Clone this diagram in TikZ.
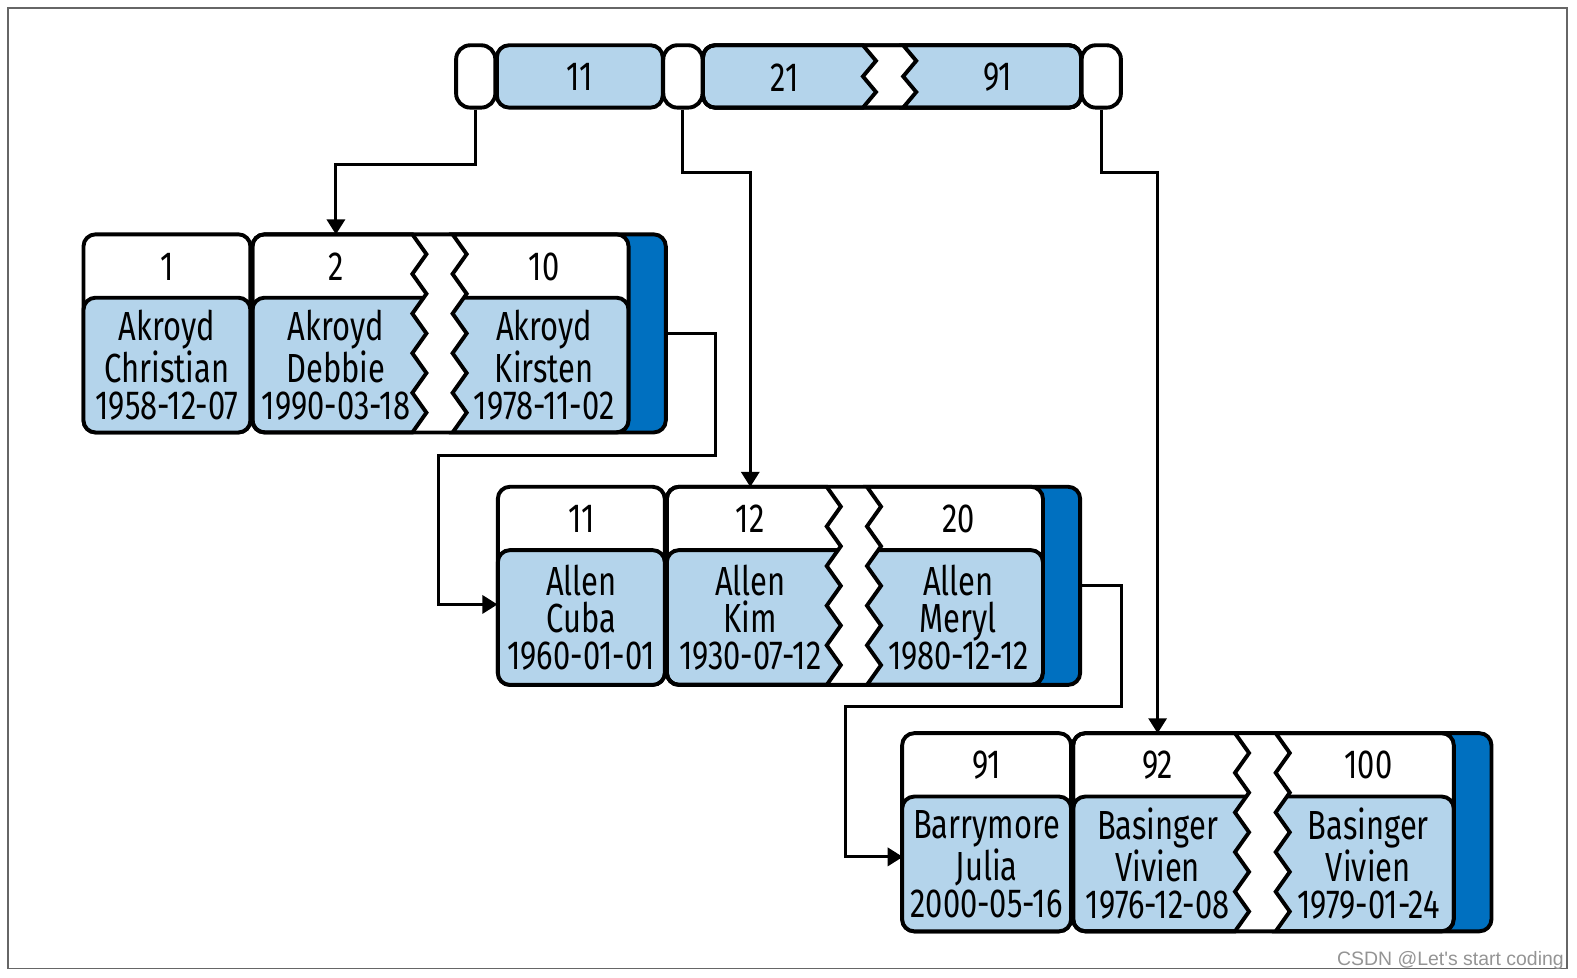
\documentclass[tikz,border=0pt]{standalone}
\usepackage{fontspec}
\setmainfont{Fira Sans}[FakeStretch=0.76]
\newfontfamily\wmfont{Liberation Sans}
\usetikzlibrary{arrows.meta}
\definecolor{keyblue}{RGB}{180,212,235}
\definecolor{ptrblue}{RGB}{0,112,192}
\newcommand{\rc}{0.24cm}
\newcommand{\ws}{1}
\newcommand{\keyfont}{\fontsize{23}{21}\selectfont}
% torn edges: x0, y0, height, steps, amplitude
\newcommand{\zigdown}[5]{\foreach \k in {1,...,#4}{ -- ({#1+#5*mod(\k,2)},{#2+#3*\k/#4})}}
\newcommand{\zigup}[5]{\foreach \k in {1,...,#4}{ -- ({#1+#5*mod(\k,2)},{#2-#3*\k/#4})}}
% cell torn on the right: xl, xz, top, height, steps, amplitude
\newcommand{\lpart}[6]{({#2},{#3+#4}) [rounded corners=\rc] -- ({#1},{#3+#4}) -- ({#1},{#3}) [sharp corners] -- ({#2},{#3}) \zigdown{#2}{#3}{#4}{#5}{#6} -- cycle}
% cell torn on the left: xz, xr, top, height, steps, amplitude
\newcommand{\rpart}[6]{({#1},{#3}) [rounded corners=\rc] -- ({#2},{#3}) -- ({#2},{#3+#4}) [sharp corners] -- ({#1},{#3+#4}) \zigup{#1}{#3+#4}{#4}{#5}{#6} -- cycle}
% leaf page: left, top, id, three keys, three rows
\newcommand{\leafpage}[9]{%
  \fill[ptrblue,rounded corners=\rc] ({#1+168*\ws},{#2}) rectangle ({#1+579*\ws},{#2+197});
  \fill[white] ({#1+327*\ws},{#2}) \zigdown{#1+327*\ws}{#2}{197}{10}{14} -- ({#1+367*\ws},{#2+197}) \zigup{#1+367*\ws}{#2+197}{197}{10}{14} -- cycle;
  \draw[cell,fill=white] ({#1},{#2}) rectangle ({#1+166*\ws},{#2+197});
  \draw[cell,fill=keyblue] ({#1},{#2+63}) rectangle ({#1+166*\ws},{#2+197});
  \fill[white] \lpart{#1+168*\ws}{#1+327*\ws}{#2}{197}{10}{14} \rpart{#1+367*\ws}{#1+542*\ws}{#2}{197}{10}{14};
  \begin{scope}
    \clip \lpart{#1+168*\ws}{#1+327*\ws}{#2}{197}{10}{14} \rpart{#1+367*\ws}{#1+542*\ws}{#2}{197}{10}{14};
    \draw[cell,fill=keyblue] ({#1+168*\ws},{#2+63}) rectangle ({#1+542*\ws},{#2+197});
  \end{scope}
  \draw[cell] \lpart{#1+168*\ws}{#1+327*\ws}{#2}{197}{10}{14} \rpart{#1+367*\ws}{#1+542*\ws}{#2}{197}{10}{14};
  \draw[cell] ({#1+168*\ws},{#2}) rectangle ({#1+579*\ws},{#2+197});
  \node[key] (k#3a) at ({#1+83*\ws},{#2+32}) {#4};
  \node[key] (k#3b) at ({#1+251*\ws},{#2+32}) {#5};
  \node[key] (k#3c) at ({#1+458*\ws},{#2+32}) {#6};
  \node[row] (r#3a) at ({#1+83*\ws},{#2+130}) {#7};
  \node[row] (r#3b) at ({#1+251*\ws},{#2+130}) {#8};
  \node[row] (r#3c) at ({#1+458*\ws},{#2+130}) {#9};
  \coordinate (s#3) at ({#1+579*\ws},{#2+98.5});
}

\begin{document}
\begin{tikzpicture}[x=0.02cm,y=-0.02cm,
    cell/.style={draw=black,line width=2.2pt,rounded corners=\rc},
    pill/.style={cell,fill=white,minimum width=0.78cm,minimum height=1.24cm,inner sep=0pt,rounded corners=0.28cm},
    ixkey/.style={cell,fill=keyblue,minimum width=3.3cm,minimum height=1.24cm,inner sep=0pt,font=\keyfont},
    key/.style={minimum width=3.32cm,minimum height=1.26cm,inner sep=0pt,font=\keyfont},
    row/.style={minimum width=3.32cm,minimum height=2.68cm,inner sep=0pt,align=center,font=\keyfont},
    link/.style={line width=1.7pt,-{Triangle[length=0.3cm,width=0.36cm]}}]
  \useasboundingbox (0,0) rectangle (1568,972);
  \draw[black!60,line width=0.8pt] (8,8) rectangle (1558,963);

  % root page
  \node[pill] (ptr1) at (473,76) {};
  \node[ixkey] (ix11) at (576.5,76) {11};
  \node[pill] (ptr2) at (679,76) {};
  \draw[cell,fill=white] (699,45) rectangle (1075,107);
  \draw[cell,fill=keyblue] \lpart{699}{858}{45}{62}{4}{13};
  \draw[cell,fill=keyblue] \rpart{898}{1075}{45}{62}{4}{13};
  \draw[cell] (699,45) rectangle (1075,107);
  \node[key,minimum width=3cm,minimum height=1.24cm] (ix21) at (780,77) {21};
  \node[key,minimum width=3cm,minimum height=1.24cm] (ix91) at (992,77) {91};
  \node[pill] (ptr3) at (1095,76) {};

  % leaf pages
  \leafpage{83}{233}{1}{1}{2}{10}{Akroyd\\Christian\\1958-12-07}{Akroyd\\Debbie\\1990-03-18}{Akroyd\\Kirsten\\1978-11-02}
  \leafpage{495}{484}{2}{11}{12}{20}{Allen\\Cuba\\1960-01-01}{Allen\\Kim\\1930-07-12}{Allen\\Meryl\\1980-12-12}
  \renewcommand{\ws}{1.012}
  \leafpage{897}{729}{3}{91}{92}{100}{Barrymore\\Julia\\2000-05-16}{Basinger\\Vivien\\1976-12-08}{Basinger\\Vivien\\1979-01-24}

  \draw[link] (ptr1.south) -- ++(0,55) -| (k1b.north);
  \draw[link] (ptr2.south) -- ++(0,63) -| (k2b.north);
  \draw[link] (ptr3.south) -- ++(0,63) -| (k3b.north);
  \draw[link] (s1) -- ++(49,0) -- ++(0,121) -- ++(-275,0) |- ([yshift=0.26cm]r2a.west);
  \draw[link] (s2) -- ++(41,0) -- ++(0,120) -- ++(-274,0) |- ([yshift=0.14cm]r3a.west);

  \node[anchor=base east,text=black!42,font=\wmfont\fontsize{11}{13}\selectfont] (wm) at (1561,960) {CSDN @Let\textquotesingle s start coding};
\end{tikzpicture}
\end{document}
